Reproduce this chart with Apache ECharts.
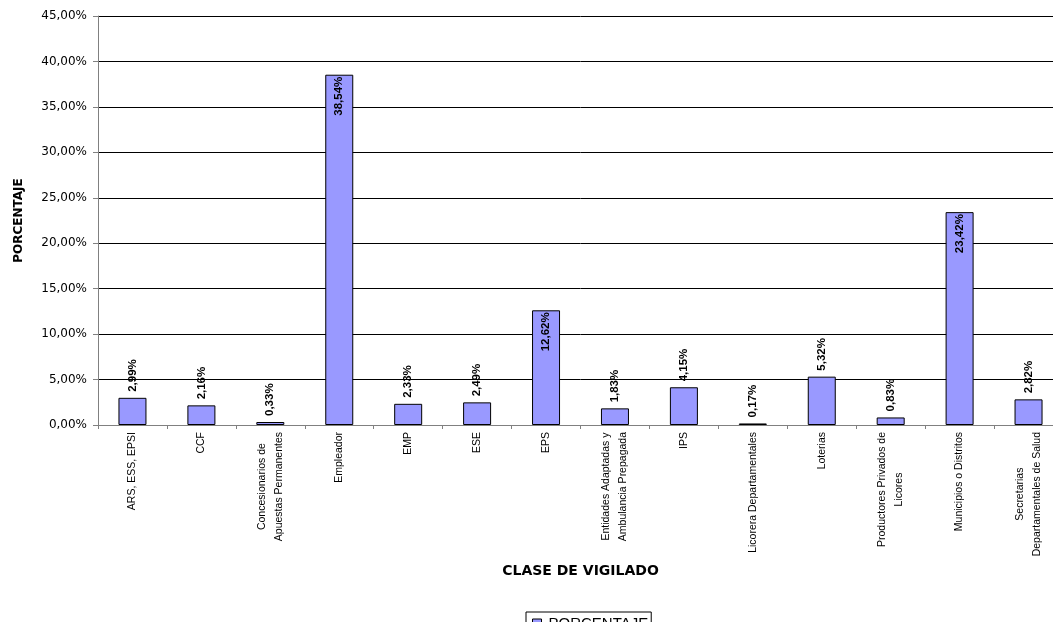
<!DOCTYPE html>
<html>
<head>
<meta charset="utf-8">
<script src="https://cdn.jsdelivr.net/npm/echarts@6/dist/echarts.min.js"></script>
<style>
  html, body { margin: 0; padding: 0; background: #fff; overflow: hidden; }
  /* the plot runs a little past the right edge of the window */
  #chart { width: 1063px; height: 622px; }
</style>
</head>
<body>
<div id="chart"></div>
<script>
// Clases de vigilado (line breaks mark the wrapped axis labels)
const categories = [
  'ARS, ESS, EPSI',
  'CCF',
  'Concesionarios de\nApuestas Permanentes',
  'Empleador',
  'EMP',
  'ESE',
  'EPS',
  'Entidades Adaptadas y\nAmbulancia Prepagada',
  'IPS',
  'Licorera Departamentales',
  'Loterias',
  'Productores Privados de\nLicores',
  'Municipios o Distritos',
  'Secretarias\nDepartamentales de Salud'
];

// Porcentaje por clase de vigilado
const porcentaje = [2.99, 2.16, 0.33, 38.54, 2.33, 2.49, 12.62, 1.83, 4.15, 0.17, 5.32, 0.83, 23.42, 2.82];

// Bars whose value label sits inside the top of the bar
const labelInside = ['Empleador', 'EPS', 'Municipios o Distritos'];

const yMax = 45;
const yStep = 5;

const fmtPct = v => v.toFixed(2).replace('.', ',') + '%';

const catFont = 'Liberation Sans, Arial, sans-serif';
const catSize = 10.5;

// Wrapped category labels: each line is centred on the longest line of its label.
const measureCtx = document.createElement('canvas').getContext('2d');
measureCtx.font = catSize + 'px ' + catFont;
const rich = {};
const catKeys = categories.map((name, i) => {
  const lines = name.split('\n');
  const widths = lines.map(s => measureCtx.measureText(s).width);
  const maxW = Math.max(...widths);
  return lines.map((s, j) => {
    const key = 'l' + i + '_' + j;
    const pad = (maxW - widths[j]) / 2;
    rich[key] = {
      fontSize: catSize, lineHeight: 17, color: '#000', fontFamily: catFont,
      padding: [0, pad, 0, pad]
    };
    return '{' + key + '|' + s + '}';
  }).join('\n');
});

const chart = echarts.init(document.getElementById('chart'), null, { renderer: 'canvas' });

const insideLabel = {
  position: 'insideTop',
  distance: 2,
  rotate: 90,
  align: 'right',
  verticalAlign: 'middle'
};

const barData = porcentaje.map((v, i) => {
  const item = { value: v };
  if (labelInside.includes(categories[i])) item.label = insideLabel;
  return item;
});

chart.setOption({
  animation: false,
  backgroundColor: '#ffffff',
  textStyle: { fontFamily: catFont, color: '#000' },
  grid: { left: 98, right: 0, top: 16, bottom: 197, containLabel: false },
  legend: {
    data: ['PORCENTAJE'],
    left: 526,
    top: 612,
    icon: 'rect',
    itemWidth: 9,
    itemHeight: 9,
    itemGap: 4,
    padding: [4, 3, 4, 6],
    borderColor: '#000',
    borderWidth: 1,
    borderRadius: 0,
    itemStyle: { borderColor: '#000', borderWidth: 1 },
    textStyle: { fontSize: 15, color: '#000', fontFamily: catFont, padding: [0, 0, 0, 2] }
  },
  xAxis: {
    type: 'category',
    data: categories,
    name: 'CLASE DE VIGILADO',
    nameLocation: 'middle',
    nameGap: 137,
    nameTextStyle: { fontFamily: 'DejaVu Sans, sans-serif', fontWeight: 'bold', fontSize: 14, color: '#000', verticalAlign: 'top' },
    axisLine: { lineStyle: { color: '#808080', width: 1 } },
    axisTick: { show: true, alignWithLabel: false, length: 4, lineStyle: { color: '#808080' } },
    axisLabel: {
      interval: 0,
      rotate: 90,
      margin: 7,
      color: '#000',
      fontSize: catSize,
      formatter: (v, i) => catKeys[i],
      rich: rich
    },
    splitLine: { show: false }
  },
  yAxis: {
    type: 'value',
    min: 0,
    max: yMax,
    interval: yStep,
    name: 'PORCENTAJE',
    nameLocation: 'middle',
    nameGap: 73,
    nameRotate: 90,
    nameTextStyle: { fontFamily: 'DejaVu Sans, sans-serif', fontWeight: 'bold', fontSize: 12, color: '#000' },
    axisLine: { show: true, lineStyle: { color: '#808080', width: 1 } },
    axisTick: { show: true, inside: false, length: 5, lineStyle: { color: '#808080' } },
    axisLabel: {
      margin: 11,
      color: '#000',
      fontSize: 12,
      fontFamily: 'DejaVu Sans, sans-serif',
      formatter: v => fmtPct(v)
    },
    splitLine: { show: true, lineStyle: { color: '#000', width: 1 } }
  },
  series: [{
    name: 'PORCENTAJE',
    type: 'bar',
    data: barData,
    barWidth: 28,
    itemStyle: { color: '#9999FF', borderColor: '#000', borderWidth: 1 },
    label: {
      show: true,
      position: 'top',
      distance: 6,
      rotate: 90,
      align: 'left',
      verticalAlign: 'middle',
      fontWeight: 'bold',
      fontSize: 11.5,
      color: '#000',
      fontFamily: catFont,
      formatter: p => fmtPct(p.value)
    }
  }]
});
</script>
</body>
</html>
